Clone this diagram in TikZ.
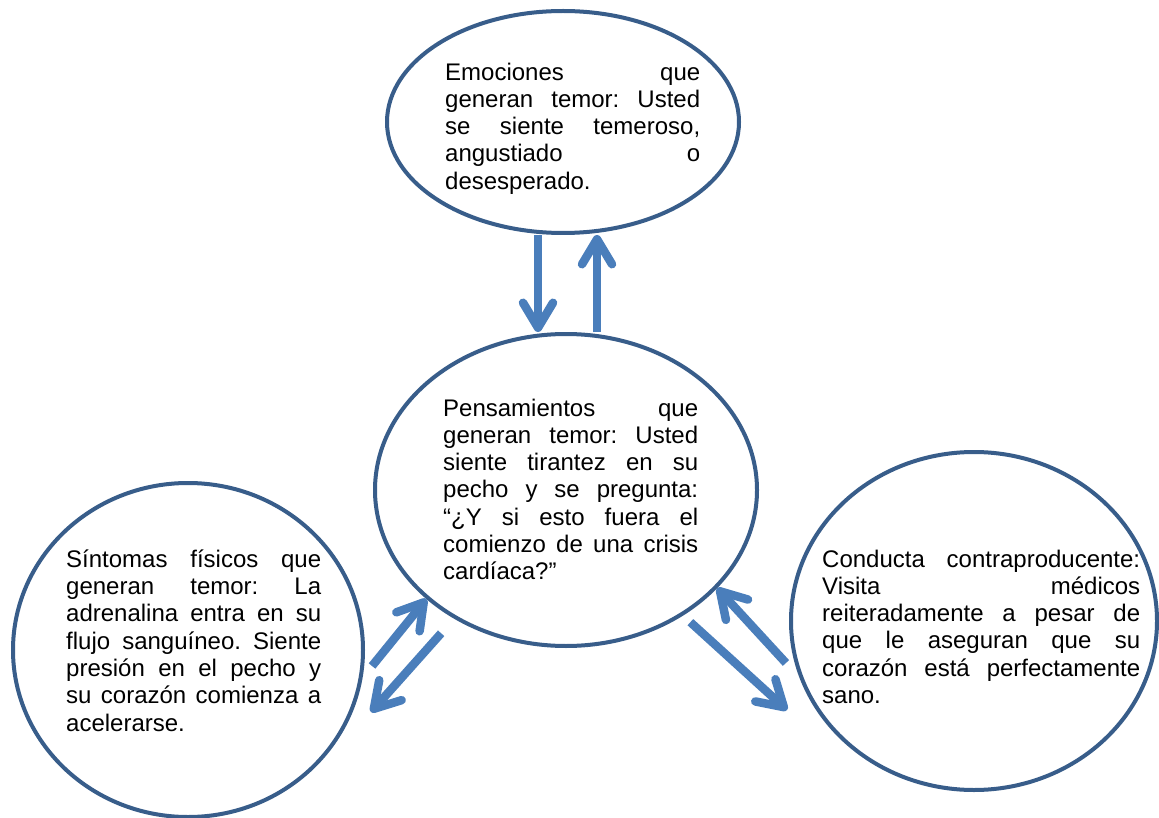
\documentclass[tikz,border=0pt]{standalone}
\usepackage{fontspec}
\setmainfont{Liberation Sans}
\usetikzlibrary{shapes.geometric,arrows.meta,calc}
\definecolor{rim}{HTML}{385D8A}
\definecolor{flow}{HTML}{4A7EBB}
\hbadness=10000
\frenchspacing
% one justified line, and a closing line set at its natural width
\newcommand\jline[1]{\hbox to\hsize{#1}}
\newcommand\lastline[1]{\hbox{#1}}

\begin{document}
\begin{tikzpicture}[x=1pt,y=-1pt,
  bubble/.style={ellipse, draw=rim, line width=4pt, inner sep=0pt},
  blurb/.style={anchor=north west, inner sep=0pt, font=\fontsize{24}{27.3}\selectfont},
  flowarrow/.style={draw=flow, line width=8.5pt,
    -{Straight Barb[length=25pt,width=30pt,round]}}]
\useasboundingbox (0,0) rectangle (1159,818);
\fill[white] (0,0) rectangle (1159,818);

% the four bubbles
\node[bubble, minimum width=352pt, minimum height=222pt] (emo) at (563,122) {};
\node[bubble, minimum width=382pt, minimum height=312pt] (pens) at (566,490) {};
\node[bubble, minimum width=350pt, minimum height=334pt] (lsym) at (188,650) {};
\node[bubble, minimum width=366pt, minimum height=338pt] (rcon) at (974,621) {};

% their texts
\node[blurb] (emotxt) at (445,62.5) {\parbox{255pt}{%
  \jline{Emociones \hfil que}
  \jline{generan temor: Usted}
  \jline{se siente temeroso,}
  \jline{angustiado \hfil o}
  \lastline{desesperado.}}};

\node[blurb] (penstxt) at (443,398.5) {\parbox{255pt}{%
  \jline{Pensamientos \hfil que}
  \jline{generan temor: Usted}
  \jline{siente tirantez en su}
  \jline{pecho y se pregunta:}
  \jline{“¿Y si esto fuera el}
  \jline{comienzo de una crisis}
  \lastline{cardíaca?”}}};

\node[blurb] (lsymtxt) at (66,549.5) {\parbox{255pt}{%
  \jline{Síntomas físicos que}
  \jline{generan temor: La}
  \jline{adrenalina entra en su}
  \jline{flujo sanguíneo. Siente}
  \jline{presión en el pecho y}
  \jline{su corazón comienza a}
  \lastline{acelerarse.}}};

\node[blurb] (rcontxt) at (822,549.5) {\parbox{318pt}{%
  \jline{Conducta contraproducente:}
  \jline{Visita \hfil médicos}
  \jline{reiteradamente a pesar de}
  \jline{que le aseguran que su}
  \jline{corazón está perfectamente}
  \lastline{sano.}}};

% connectors
\coordinate (dnx) at (538,0);
\coordinate (upx) at (597,0);
\coordinate (bl) at (371,712);
\coordinate (br) at (787,710);

\draw[flowarrow] (emo.south -| dnx) -- (pens.north -| dnx);
\draw[flowarrow] (pens.north -| upx) -- (emo.south -| upx);

\draw[flowarrow, shorten <=15pt] (lsym.-9.9) -- (pens.218.4);
\draw[flowarrow, shorten <=19.5pt] (pens.229.2) -- (bl);

\draw[flowarrow, shorten <=9.8pt] (pens.313.45) -- (br);
\draw[flowarrow, shorten <=20pt] (rcon.198.2) -- (pens.327.2);
\end{tikzpicture}
\end{document}
